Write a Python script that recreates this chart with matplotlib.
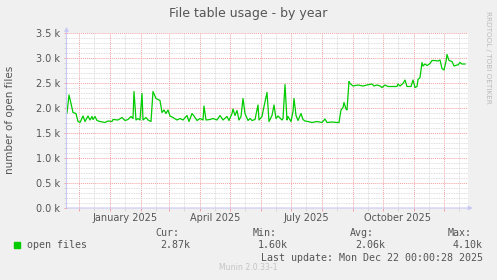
import matplotlib
matplotlib.use("Agg")
import matplotlib.pyplot as plt
import matplotlib.dates as mdates
from matplotlib.patches import Rectangle
from matplotlib.ticker import MultipleLocator, FuncFormatter
import pandas as pd

# munin "open files" (file table usage), yearly view
# days are offsets from 2025-01-01
days = [-43, -41, -39, -37, -34, -32, -30, -27, -25, -22, -20, -18, -17, -15, -13,
        -10, -5, -2, 2, 3, 8, 12, 15, 18, 21, 23, 24, 26, 28, 30, 32, 33, 36, 38,
        41, 43, 46, 48, 50, 52, 54, 56, 58, 60, 63, 67, 70, 73, 77, 79, 82, 84,
        87, 90, 93, 94, 96, 100, 103, 107, 110, 113, 117, 119, 122, 123, 125,
        127, 129, 131, 133, 135, 138, 140, 142, 145, 148, 149, 152, 154, 157,
        159, 162, 164, 166, 168, 172, 173, 175, 177, 178, 181, 183, 184, 186,
        188, 191, 193, 195, 198, 202, 207, 212, 215, 217, 222, 227, 229, 231,
        233, 234, 236, 237, 239, 240, 243, 248, 253, 257, 262, 264, 267, 270,
        272, 275, 278, 283, 287, 288, 290, 293, 295, 297, 301, 303, 305, 307,
        308, 310, 312, 313, 315, 317, 318, 320, 322, 325, 328, 330, 332, 334,
        336, 337, 339, 342, 344, 347, 348, 350, 352, 355]
open_files = [1900, 2260, 2090, 1910, 1890, 1730, 1710, 1840, 1730, 1840, 1760, 1830,
              1770, 1830, 1750, 1730, 1710, 1740, 1730, 1770, 1760, 1810, 1750, 1770,
              1830, 1790, 2330, 1760, 1790, 1760, 2290, 1760, 1810, 1760, 1730, 2330,
              2190, 2170, 2150, 1910, 1960, 1890, 1960, 1840, 1810, 1760, 1790, 1760,
              1850, 1730, 1890, 1840, 1750, 1790, 1760, 2040, 1760, 1770, 1790, 1760,
              1850, 1760, 1830, 1750, 1890, 1980, 1850, 1950, 1760, 1830, 2190, 1890,
              1750, 1790, 1750, 1770, 2060, 1760, 1830, 2030, 2310, 1730, 1850, 2060,
              1790, 1840, 1760, 1790, 2470, 1760, 1830, 1730, 1930, 2190, 1850, 1750,
              1890, 1770, 1740, 1730, 1710, 1730, 1710, 1780, 1710, 1720, 1710, 1710,
              1960, 2010, 2110, 1980, 1960, 2530, 2490, 2440, 2460, 2440, 2460, 2480,
              2440, 2460, 2440, 2410, 2460, 2430, 2430, 2430, 2480, 2440, 2490, 2560,
              2430, 2430, 2560, 2410, 2430, 2570, 2610, 2910, 2840, 2880, 2850, 2860,
              2890, 2950, 2950, 2940, 2960, 2790, 2760, 2930, 3070, 2950, 2930, 2840,
              2860, 2860, 2910, 2880, 2880]

x_labels = ["January 2025", "April 2025", "July 2025", "October 2025"]
stat_names = ["Cur:", "Min:", "Avg:", "Max:"]
stat_values = ["2.87k", "1.60k", "2.06k", "4.10k"]

W, H = 497, 280
BG = "#F0F0F0"
TXT = "#555555"
GREEN = "#00CC00"
MAJ = "#F2A0A0"
MIN_C = "#D4D4D4"
AXC = "#C8C8F4"


def px(x, y):
    return x / W, 1 - y / H


base = pd.Timestamp("2025-01-01")
dates = base + pd.to_timedelta(days, unit="D")

fig = plt.figure(figsize=(W / 100, H / 100), dpi=100, facecolor=BG)
left, right, top, bottom = 66.5, 468, 33, 208
ax = fig.add_axes([left / W, 1 - bottom / H, (right - left) / W, (bottom - top) / H])
ax.set_facecolor("white")

ax.plot(dates, open_files, color=GREEN, lw=0.9, zorder=3)

ax.set_xlim(base + pd.Timedelta(days=-43.5), base + pd.Timedelta(days=358))
ax.set_ylim(0, 3500)

# month grid (red) and mid-month grid (gray)
ax.xaxis.set_major_locator(mdates.MonthLocator())
ax.xaxis.set_minor_locator(mdates.MonthLocator(bymonthday=16))
ax.xaxis.set_major_formatter(plt.NullFormatter())
ax.xaxis.set_minor_formatter(plt.NullFormatter())
ax.yaxis.set_major_locator(MultipleLocator(500))
ax.yaxis.set_minor_locator(MultipleLocator(100))
ax.yaxis.set_major_formatter(FuncFormatter(lambda v, p: "%.1f k" % (v / 1000)))

ax.grid(which="major", color=MAJ, ls=(0, (1, 1)), lw=0.7, zorder=1)
ax.grid(which="minor", color=MIN_C, ls=(0, (1, 1)), lw=0.6, zorder=0)
ax.tick_params(which="major", length=2.5, color=MAJ, width=0.7, labelsize=7,
               labelcolor=TXT, pad=2)
ax.tick_params(which="minor", length=2, color=MIN_C, width=0.6)

# month labels sit in the middle of the month
for i, lab in enumerate(x_labels):
    d = pd.Timestamp(2025, 1 + 3 * i, 16)
    ax.text(d, -0.03, lab, transform=ax.get_xaxis_transform(), ha="center",
            va="top", fontsize=7, color=TXT)

for s in ax.spines.values():
    s.set_visible(False)
ax.annotate("", xy=(1.012, 0), xytext=(0, 0), xycoords="axes fraction",
            arrowprops=dict(arrowstyle="-|>", color=AXC, lw=0.8, mutation_scale=6,
                            shrinkA=0, shrinkB=0), annotation_clip=False)
ax.annotate("", xy=(0, 1.035), xytext=(0, 0), xycoords="axes fraction",
            arrowprops=dict(arrowstyle="-|>", color=AXC, lw=0.8, mutation_scale=6,
                            shrinkA=0, shrinkB=0), annotation_clip=False)

fig.text(*px(248.5, 13), "File table usage - by year", ha="center", va="center",
         fontsize=9, color=TXT)
fig.text(*px(10, 120), "number of open files", ha="center", va="center",
         rotation=90, fontsize=7.5, color=TXT)
fig.text(*px(488, 57), "RRDTOOL / TOBI OETIKER", ha="center", va="center",
         rotation=270, fontsize=5.2, color="#BBBBBB")

# legend block
mono = dict(family="DejaVu Sans Mono", fontsize=7.2, color=TXT, va="center")
fig.patches.append(Rectangle(px(14, 248), 6 / W, 6 / H, transform=fig.transFigure,
                             color=GREEN, figure=fig))
fig.text(*px(27, 245.5), "open files", **mono)
for i, (name, val) in enumerate(zip(stat_names, stat_values)):
    xs = 155 + 97.5 * i
    fig.text(*px(xs, 233.5), name, **mono)
    fig.text(*px(xs + 5, 245.5), val, **mono)
fig.text(*px(261, 258), "Last update: Mon Dec 22 00:00:28 2025", **mono)
fig.text(*px(219, 268), "Munin 2.0.33-1", ha="left", va="center", fontsize=5.6,
         color="#C4C4C4")

fig.savefig("out.png", dpi=100, facecolor=BG)
